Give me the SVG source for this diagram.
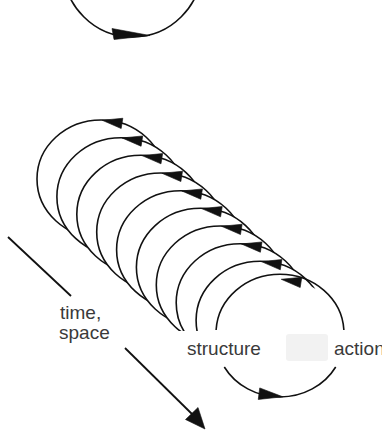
<svg xmlns="http://www.w3.org/2000/svg" xmlns:xlink="http://www.w3.org/1999/xlink" width="382" height="432" viewBox="0 0 382 432">
  <style>
    .loop { fill: #ffffff; stroke: #111111; stroke-width: 1.6; }
    .arc { fill: none; stroke: #111111; stroke-width: 1.6; }
    .ah { fill: #111111; stroke: #111111; stroke-width: 0.6; stroke-linejoin: round; }
    .line { fill: none; stroke: #111111; stroke-width: 1.8; }
    .lbl { font-family: "Liberation Sans", Arial, sans-serif; font-size: 19px; fill: #3a3a3a; }
  </style>
  <defs>
    <path id="ahLeft" class="ah" d="M0,-5.2 L0,5.2 L-20,0 Z"/>
    <path id="ahRight" class="ah" d="M0,-5.8 L0,5.8 L24,0 Z"/>
    <clipPath id="upper"><rect x="0" y="0" width="382" height="331"/></clipPath>
  </defs>
  <rect x="0" y="0" width="382" height="432" fill="#ffffff"/>

  <g id="top-loop">
    <circle class="arc" cx="132.5" cy="-32" r="69"/>
    <polygon class="ah" points="112,28.5 114,39.5 150,35.5"/>
  </g>

  <g id="loops" clip-path="url(#upper)">
    <g id="loop-1" transform="translate(101,179)"><ellipse class="loop" rx="64" ry="59"/><use xlink:href="#ahLeft" transform="translate(21,-55.6) rotate(9)"/></g>
    <g id="loop-2" transform="translate(120.9,196.7)"><ellipse class="loop" rx="64" ry="59"/><use xlink:href="#ahLeft" transform="translate(21,-55.6) rotate(9)"/></g>
    <g id="loop-3" transform="translate(140.8,214.3)"><ellipse class="loop" rx="64" ry="59"/><use xlink:href="#ahLeft" transform="translate(21,-55.6) rotate(9)"/></g>
    <g id="loop-4" transform="translate(160.7,232)"><ellipse class="loop" rx="64" ry="59"/><use xlink:href="#ahLeft" transform="translate(21,-55.6) rotate(9)"/></g>
    <g id="loop-5" transform="translate(180.6,249.7)"><ellipse class="loop" rx="64" ry="59"/><use xlink:href="#ahLeft" transform="translate(21,-55.6) rotate(9)"/></g>
    <g id="loop-6" transform="translate(200.4,267.3)"><ellipse class="loop" rx="64" ry="59"/><use xlink:href="#ahLeft" transform="translate(21,-55.6) rotate(9)"/></g>
    <g id="loop-7" transform="translate(220.3,285)"><ellipse class="loop" rx="64" ry="59"/><use xlink:href="#ahLeft" transform="translate(21,-55.6) rotate(9)"/></g>
    <g id="loop-8" transform="translate(240.2,302.7)"><ellipse class="loop" rx="64" ry="59"/><use xlink:href="#ahLeft" transform="translate(21,-55.6) rotate(9)"/></g>
    <g id="loop-9" transform="translate(260.1,320.3)"><ellipse class="loop" rx="64" ry="59"/><use xlink:href="#ahLeft" transform="translate(21,-55.6) rotate(9)"/></g>
  </g>

  <g id="loop-front" transform="translate(280,338)">
    <ellipse rx="64" ry="59" fill="#ffffff"/>
    <path class="arc" d="M-63.9,-8 A64,59 0 0 1 63.9,-8"/>
    <path class="arc" d="M-55.7,29 A64,59 0 0 0 55.7,29"/>
    <use xlink:href="#ahLeft" transform="translate(21,-55.6) rotate(9)"/>
    <use xlink:href="#ahRight" transform="translate(-21,55.7) rotate(7.4)"/>
  </g>

  <rect id="smudge" x="286" y="334" width="42" height="27" rx="3" fill="#f2f2f2"/>

  <g id="connectors">
    <line class="line" x1="8" y1="237" x2="71" y2="296"/>
    <line class="line" x1="125" y1="348" x2="193" y2="415"/>
    <polygon class="ah" points="185.5,419.5 198,407.5 205,429"/>
  </g>

  <g id="labels">
    <text class="lbl" x="60" y="319">time,</text>
    <text class="lbl" x="59" y="339">space</text>
    <text id="structure" class="lbl" x="187" y="355">structure</text>
    <text id="action" class="lbl" x="334" y="355">action</text>
  </g>
</svg>
